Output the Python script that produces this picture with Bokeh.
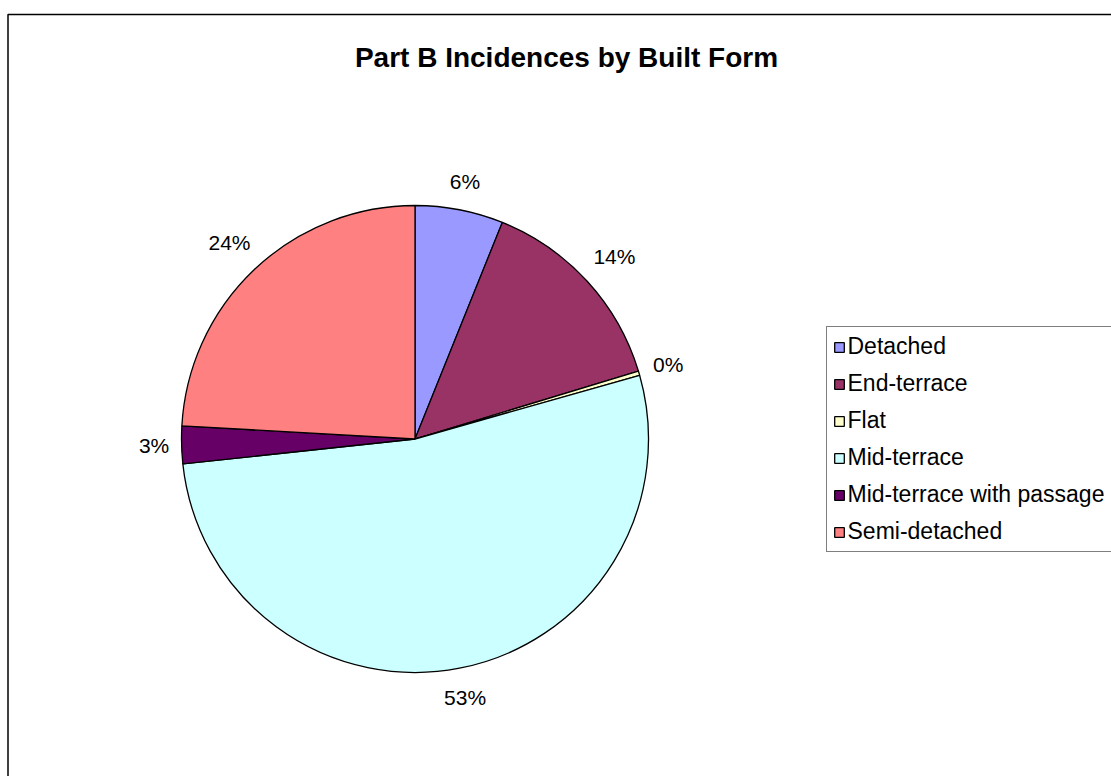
import math

from bokeh.core.properties import value
from bokeh.embed import file_html
from bokeh.models import ColumnDataSource, Legend, LegendItem, Range1d
from bokeh.plotting import figure
from bokeh.resources import INLINE

# Share of Part B incidences per built form (percent)
categories = ["Detached", "End-terrace", "Flat", "Mid-terrace",
              "Mid-terrace with passage", "Semi-detached"]
shares = [6.1, 14.2, 0.3, 52.7, 2.6, 24.1]
colors = ["#9999FF", "#993366", "#FFFFCC", "#CCFFFF", "#660066", "#FF8080"]
title_text = "Part B Incidences by Built Form"

W, H = 1111, 776
FONT = "Liberation Sans"

# pie geometry in pixel-like data units (1 unit == 1 px)
cx, cy, r = 414.5, H - 438.5, 233.5

total = sum(shares)
starts, ends, mids = [], [], []
acc = 0.0
for v in shares:
    a0 = acc / total * 2 * math.pi
    acc += v
    a1 = acc / total * 2 * math.pi
    starts.append(math.pi / 2 - a0)   # clockwise from 12 o'clock
    ends.append(math.pi / 2 - a1)
    mids.append((a0 + a1) / 2)

labels = [f"{round(v / total * 100)}%" for v in shares]

# place each percentage just outside its slice, along the mid-angle,
# pushed out by half the label box in the direction it faces
label_size = 21
gap, half_h = 12, 14
lx, ly = [], []
for t, s in zip(mids, labels):
    ux, uy = math.sin(t), math.cos(t)
    half_w = label_size * (0.556 * (len(s) - 1) + 0.889) / 2
    d = r + gap + half_w * abs(ux) + half_h * abs(uy)
    lx.append(cx + d * ux)
    ly.append(cy + d * uy)

src = ColumnDataSource(dict(cat=categories, start=starts, end=ends, color=colors))
lab_src = ColumnDataSource(dict(x=lx, y=ly, text=labels))

p = figure(width=W, height=H, x_range=Range1d(0, W), y_range=Range1d(0, H),
           output_backend="svg", toolbar_location=None, min_border=0,
           x_axis_location=None, y_axis_location=None)
p.grid.visible = False
p.outline_line_color = None
p.background_fill_color = "white"
p.border_fill_color = "white"

# chart-area frame (left and top edges; the rest runs past the page)
p.line(x=[7.5, 7.5, W + 20], y=[-20, H - 14, H - 14], line_color="black", line_width=1.5)

wedges = p.wedge(x=cx, y=cy, radius=r, start_angle="start", end_angle="end",
                 direction="clock", fill_color="color", line_color="black",
                 line_width=1.3, source=src)

p.text(x="x", y="y", text="text", source=lab_src, text_font=value(FONT),
       text_font_size=f"{label_size}px", text_align="center",
       text_baseline="middle", text_color="black")

p.text(x=[566], y=[H - 57], text=[title_text], text_font=value(FONT),
       text_font_style="bold", text_font_size="28px", text_align="center",
       text_baseline="middle", text_color="black")

legend = Legend(
    items=[LegendItem(label=c, renderers=[wedges], index=i) for i, c in enumerate(categories)],
    location=(825.5, 224), orientation="vertical",
    glyph_width=12, glyph_height=12, label_standoff=3,
    padding=6, spacing=10, label_height=23, label_width=300, margin=0,
    label_text_font=FONT, label_text_font_size="23px", label_text_baseline="middle",
    label_text_color="black",
    border_line_color="black", border_line_width=1,
    background_fill_color="white", background_fill_alpha=1.0,
)
p.add_layout(legend)

open("out.html", "w").write(file_html(p, INLINE))
